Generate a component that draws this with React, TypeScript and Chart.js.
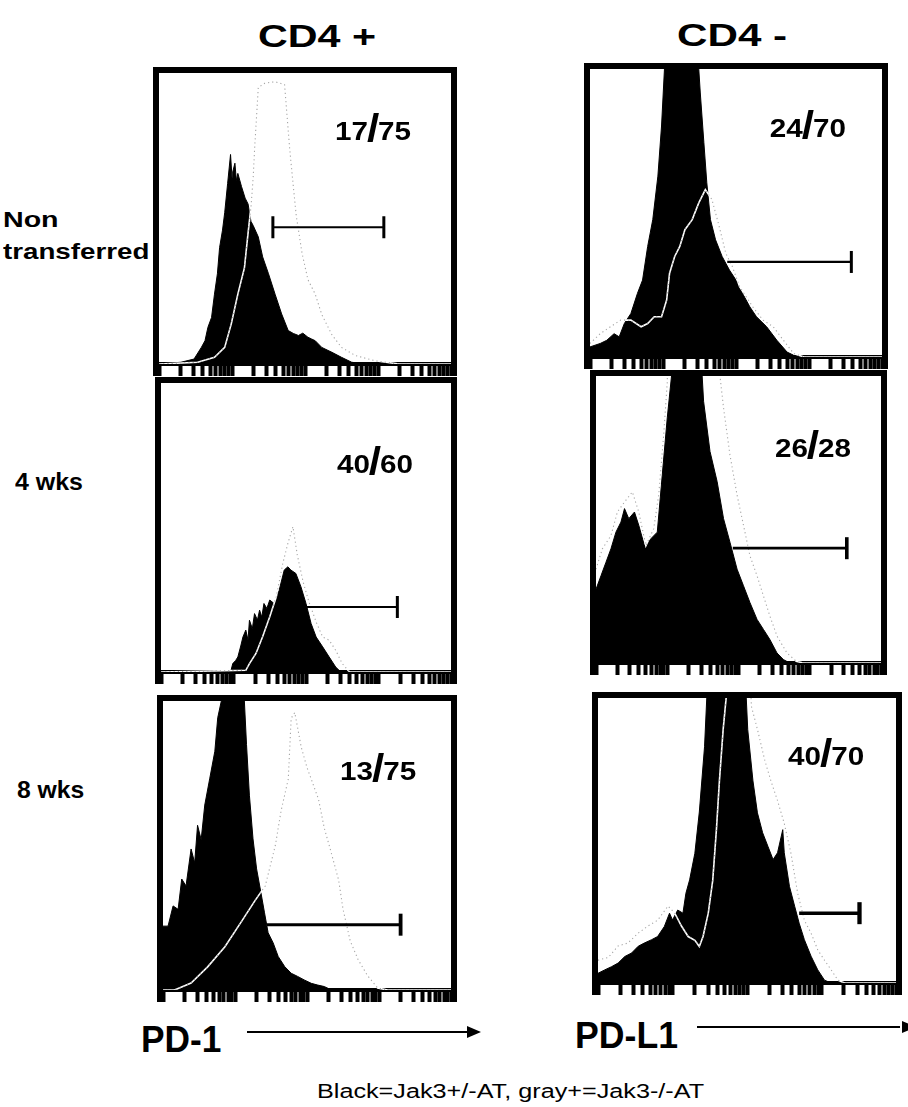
import { useEffect, useRef } from "react";
import { Chart, registerables } from "chart.js";

Chart.register(...registerables);

const FONT = '"Liberation Sans", Arial, Helvetica, sans-serif';

// x: log10 fluorescence (4 decades), y: events as % of the modal channel
const X_MIN = 0;
const X_MAX = 4;
const Y_MAX = 100;

// CD4+ , non transferred
const cd4PosNonBlackX = [0, 0.3, 0.48, 0.58, 0.63, 0.67, 0.72, 0.76, 0.8, 0.83, 0.87, 0.9, 0.94, 0.98, 1.0, 1.01, 1.04, 1.06, 1.08, 1.13, 1.18, 1.22, 1.26, 1.29, 1.36, 1.42, 1.5, 1.59, 1.68, 1.77, 1.84, 1.91, 1.97, 2.04, 2.09, 2.14, 2.23, 2.37, 2.5, 2.64, 2.83, 4];
const cd4PosNonBlackY = [0, 0.6, 1.7, 5.7, 8, 12.6, 16, 24, 31, 40, 46, 52, 62, 72, 64, 66, 69, 63, 65.5, 61, 57, 55, 49, 47.6, 43.7, 36.8, 31, 24, 17.2, 11.5, 10.5, 9.8, 10.6, 9.2, 8.6, 8, 5.7, 4, 2.3, 0.6, 0, 0];
const cd4PosNonGrayX = [0, 0.53, 0.76, 0.9, 0.99, 1.08, 1.17, 1.22, 1.26, 1.29, 1.31, 1.36, 1.45, 1.59, 1.72, 1.79, 1.84, 1.88, 1.96, 2.04, 2.14, 2.23, 2.37, 2.5, 2.69, 2.96, 3.29, 4];
const cd4PosNonGrayY = [0, 0.6, 2.3, 5.7, 13.8, 24, 33, 45, 54, 64, 74, 95, 96.5, 97, 96, 74, 61, 51, 38, 29, 24, 17, 10, 5.7, 2.9, 1.1, 0, 0];

// CD4- , non transferred
const cd4NegNonBlackX = [0, 0.14, 0.23, 0.33, 0.4, 0.47, 0.56, 0.65, 0.72, 0.79, 0.86, 0.93, 0.98, 1.02, 1.07, 1.44, 1.49, 1.51, 1.56, 1.6, 1.65, 1.72, 1.81, 1.91, 2.0, 2.09, 2.19, 2.28, 2.42, 2.56, 2.7, 2.84, 4];
const cd4NegNonBlackY = [3.5, 4.7, 5.8, 8.1, 7, 11.6, 15.1, 22.1, 26.7, 38.4, 47.7, 62.8, 80.2, 100, 130, 130, 100, 92, 74.4, 60.5, 47.7, 40.7, 34.9, 30.2, 26.7, 22.1, 17.4, 14, 10.5, 5.8, 1.7, 0, 0];
const cd4NegNonGrayX = [0, 0.14, 0.28, 0.42, 0.56, 0.7, 0.79, 0.88, 0.98, 1.05, 1.09, 1.16, 1.23, 1.3, 1.4, 1.49, 1.58, 1.67, 1.77, 1.86, 1.95, 2.05, 2.14, 2.23, 2.37, 2.51, 2.65, 2.79, 2.93, 4];
const cd4NegNonGrayY = [4.7, 8.1, 10.5, 12.8, 12.8, 10.5, 11.6, 14, 14, 19.8, 29.1, 34.9, 38.4, 44.2, 47.7, 53.5, 58.1, 54.7, 45.3, 36, 31.4, 24.4, 20.9, 17.4, 12.8, 10.5, 5.8, 1.2, 0, 0];

// CD4+ , 4 wks
const cd4Pos4wBlackX = [0, 0.96, 0.99, 1.03, 1.06, 1.1, 1.13, 1.17, 1.2, 1.22, 1.26, 1.29, 1.33, 1.36, 1.39, 1.42, 1.46, 1.5, 1.56, 1.63, 1.7, 1.75, 1.79, 1.86, 1.93, 2.0, 2.07, 2.14, 2.23, 2.32, 2.41, 2.48, 4];
const cd4Pos4wBlackY = [0, 0, 2.9, 4, 5.2, 9, 12.1, 14.5, 11, 17.9, 15, 20.2, 18, 21.4, 19, 23.7, 22, 24.9, 23.7, 28.3, 35.3, 36.4, 35.3, 34.1, 29.5, 23.7, 16.8, 12.1, 8.7, 5.2, 1.7, 0, 0];
const cd4Pos4wGrayX = [0, 1.17, 1.22, 1.31, 1.4, 1.5, 1.59, 1.68, 1.75, 1.82, 1.88, 1.96, 2.04, 2.14, 2.23, 2.32, 2.41, 2.5, 2.6, 4];
const cd4Pos4wGrayY = [0, 0.6, 2.9, 6.4, 12.1, 19.1, 26, 37.6, 44.5, 50.3, 40.5, 31.2, 24.3, 17.3, 12.1, 11, 7.5, 2.9, 0, 0];

// CD4- , 4 wks
const cd4Neg4wBlackX = [0, 0.07, 0.14, 0.21, 0.28, 0.35, 0.4, 0.46, 0.54, 0.6, 0.68, 0.77, 0.86, 0.93, 1.0, 1.06, 1.09, 1.44, 1.49, 1.51, 1.6, 1.7, 1.79, 1.88, 1.98, 2.07, 2.16, 2.26, 2.35, 2.44, 2.54, 2.63, 2.72, 4];
const cd4Neg4wBlackY = [25.7, 30.4, 35.1, 39.8, 45.6, 49.1, 53.8, 50.3, 52.6, 48, 40.9, 43.3, 45.6, 65.5, 85.4, 100, 130, 130, 100, 91.2, 73.7, 63.2, 50.3, 42.1, 32.7, 26.9, 21.1, 15.2, 11.7, 8.2, 3.5, 1.2, 0, 0];
const cd4Neg4wGrayX = [0, 0.09, 0.21, 0.3, 0.4, 0.51, 0.6, 0.7, 0.81, 0.88, 0.95, 1.0, 1.02, 1.7, 1.74, 1.79, 1.88, 1.98, 2.07, 2.16, 2.26, 2.35, 2.44, 2.54, 2.68, 2.81, 2.91, 4];
const cd4Neg4wGrayY = [32.7, 39.8, 44.4, 52.6, 56.1, 59.6, 52.6, 40.9, 46.8, 58.5, 79.5, 97.7, 130, 130, 100, 88.9, 72.5, 58.5, 48, 37.4, 30.4, 23.4, 16.4, 9.4, 3.5, 0.6, 0, 0];

// CD4+ , 8 wks
const cd4Pos8wBlackX = [0, 0.07, 0.14, 0.21, 0.26, 0.32, 0.39, 0.44, 0.48, 0.53, 0.58, 0.65, 0.72, 0.76, 0.81, 0.83, 1.11, 1.13, 1.16, 1.2, 1.25, 1.3, 1.36, 1.41, 1.46, 1.53, 1.6, 1.69, 1.78, 1.87, 1.96, 2.06, 2.15, 2.24, 2.34, 4];
const cd4Pos8wBlackY = [22.1, 22.1, 29.1, 27.9, 38.4, 36, 48.8, 44, 57, 52, 64, 73.3, 82.6, 94.2, 100, 130, 130, 100, 84.9, 67.4, 52.3, 41.9, 33.7, 26.7, 19.8, 16.3, 11.6, 8.1, 5.8, 4.7, 3.5, 2.3, 1.7, 1.2, 0, 0];
const cd4Pos8wGrayX = [0, 0.16, 0.39, 0.62, 0.86, 1.08, 1.28, 1.42, 1.56, 1.64, 1.74, 1.78, 1.83, 1.92, 2.0, 2.16, 2.24, 2.32, 2.44, 2.5, 2.6, 2.71, 2.84, 2.98, 3.12, 4];
const cd4Pos8wGrayY = [0, 0, 2.4, 8, 15, 23.3, 31, 36, 50, 62, 73, 94, 96, 84, 77, 66, 56, 49, 38, 28, 17, 10.5, 5, 0.7, 0, 0];

// CD4- , 8 wks
const cd4Neg8wBlackX = [0, 0.09, 0.18, 0.27, 0.36, 0.45, 0.54, 0.62, 0.72, 0.8, 0.89, 0.96, 1.0, 1.07, 1.14, 1.18, 1.23, 1.3, 1.36, 1.43, 1.46, 1.48, 1.97, 1.99, 2.01, 2.08, 2.14, 2.21, 2.28, 2.35, 2.41, 2.48, 2.5, 2.57, 2.64, 2.7, 2.77, 2.86, 2.95, 3.04, 3.13, 4];
const cd4Neg8wBlackY = [3.4, 4.6, 5.7, 7, 9.3, 10.5, 12.9, 14, 15.2, 16.3, 19.8, 24.5, 22.1, 25.6, 24.5, 31.5, 36.2, 45.5, 60, 82.9, 100, 130, 130, 100, 88.9, 70.9, 59.7, 52.7, 48, 43.3, 45.7, 53.8, 45.7, 33.9, 26.9, 21, 15.2, 9.4, 4.6, 1, 0, 0];
const cd4Neg8wGrayX = [0, 0.14, 0.27, 0.4, 0.54, 0.67, 0.8, 0.94, 1.03, 1.12, 1.21, 1.3, 1.36, 1.41, 1.48, 1.54, 1.59, 1.63, 1.68, 1.72, 1.74, 1.99, 2.06, 2.14, 2.24, 2.32, 2.41, 2.5, 2.59, 2.68, 2.77, 2.86, 2.95, 3.04, 3.13, 3.22, 3.31, 4];
const cd4Neg8wGrayY = [8, 9, 13, 14, 17.5, 20, 22, 27, 24.5, 20, 16.3, 15, 12.8, 16.3, 24.5, 36, 54, 71, 89, 100, 130, 130, 97, 89, 78, 71, 64, 56, 45.5, 31.5, 22, 17.5, 11.6, 8, 4.6, 1, 0, 0];

// Marker gates: [start, end] on the log axis and the height they are drawn at
const gateStarts = [1.56, 1.88, 2.0, 1.92, 1.44, 2.7];
const gateEnds = [3.08, 3.58, 3.26, 3.52, 3.3, 3.51];
const gateLevels = [47, 33, 22.5, 40, 22.6, 24.5];

// % positive inside the gate: Jak3+/- (black) / Jak3-/- (gray)
const blackPercents = ["17", "24", "40", "26", "13", "40"];
const grayPercents = ["75", "70", "60", "28", "75", "70"];

// Log tick positions (1..9 per decade)
const tickValues: number[] = [];
for (let d = 0; d < 4; d++) {
  for (let k = 1; k <= 9; k++) tickValues.push(d + Math.log10(k));
}
tickValues.push(4);

type PanelDef = {
  left: number;
  top: number;
  width: number;
  height: number;
  blackX: number[];
  blackY: number[];
  grayX: number[];
  grayY: number[];
  idx: number;
  leftCap: boolean;
  gateWidth: number;
  labelFx: number;
  labelFy: number;
};

const TICK_LEN = 12;

const panels: PanelDef[] = [
  { left: 153, top: 67, width: 304, height: 309, blackX: cd4PosNonBlackX, blackY: cd4PosNonBlackY, grayX: cd4PosNonGrayX, grayY: cd4PosNonGrayY, idx: 0, leftCap: true, gateWidth: 2.2, labelFx: 0.603, labelFy: 0.23 },
  { left: 584, top: 63, width: 304, height: 306, blackX: cd4NegNonBlackX, blackY: cd4NegNonBlackY, grayX: cd4NegNonGrayX, grayY: cd4NegNonGrayY, idx: 1, leftCap: false, gateWidth: 2.2, labelFx: 0.616, labelFy: 0.236 },
  { left: 155, top: 377, width: 302, height: 307, blackX: cd4Pos4wBlackX, blackY: cd4Pos4wBlackY, grayX: cd4Pos4wGrayX, grayY: cd4Pos4wGrayY, idx: 2, leftCap: false, gateWidth: 2.2, labelFx: 0.607, labelFy: 0.311 },
  { left: 590, top: 370, width: 297, height: 305, blackX: cd4Neg4wBlackX, blackY: cd4Neg4wBlackY, grayX: cd4Neg4wGrayX, grayY: cd4Neg4wGrayY, idx: 3, leftCap: false, gateWidth: 2.8, labelFx: 0.628, labelFy: 0.282 },
  { left: 157, top: 695, width: 300, height: 307, blackX: cd4Pos8wBlackX, blackY: cd4Pos8wBlackY, grayX: cd4Pos8wGrayX, grayY: cd4Pos8wGrayY, idx: 4, leftCap: false, gateWidth: 3, labelFx: 0.615, labelFy: 0.273 },
  { left: 592, top: 692, width: 310, height: 303, blackX: cd4Neg8wBlackX, blackY: cd4Neg8wBlackY, grayX: cd4Neg8wGrayX, grayY: cd4Neg8wGrayY, idx: 5, leftCap: false, gateWidth: 3.5, labelFx: 0.638, labelFy: 0.235 },
];

const toPoints = (xs: number[], ys: number[]) => {
  const n = Math.min(xs.length, ys.length);
  const pts: { x: number; y: number }[] = [];
  for (let i = 0; i < n; i++) pts.push({ x: xs[i], y: ys[i] });
  return pts;
};

// Thick frame around the plot (left, top, right sides)
const framePlugin = {
  id: "frame",
  afterDraw(chart: any) {
    const { ctx, width, height } = chart;
    ctx.save();
    ctx.strokeStyle = "#000";
    ctx.lineWidth = 6;
    ctx.lineJoin = "miter";
    ctx.beginPath();
    ctx.moveTo(3, height);
    ctx.lineTo(3, 3);
    ctx.lineTo(width - 3, 3);
    ctx.lineTo(width - 3, height);
    ctx.stroke();
    ctx.restore();
  },
};

// Marker gate and the percentage label
const gatePlugin = {
  id: "gate",
  afterDatasetsDraw(chart: any, _args: any, opts: any) {
    const p: PanelDef = opts.panel;
    const { ctx, chartArea, scales } = chart;
    const xs = scales.x;
    const ys = scales.y;
    const i = p.idx;
    const x0 = xs.getPixelForValue(gateStarts[i]);
    const x1 = xs.getPixelForValue(gateEnds[i]);
    const y = ys.getPixelForValue(gateLevels[i]);
    ctx.save();
    ctx.strokeStyle = "#000";
    ctx.lineWidth = p.gateWidth;
    ctx.beginPath();
    ctx.moveTo(x0, y);
    ctx.lineTo(x1, y);
    ctx.stroke();
    ctx.lineWidth = p.gateWidth + 0.8;
    ctx.beginPath();
    ctx.moveTo(x1, y - 11);
    ctx.lineTo(x1, y + 11);
    if (p.leftCap) {
      ctx.moveTo(x0, y - 11);
      ctx.lineTo(x0, y + 11);
    }
    ctx.stroke();

    // "a/b" label with an oversized slash
    const lx = chartArea.left + p.labelFx * (chartArea.right - chartArea.left);
    const ly = chartArea.top + p.labelFy * (chartArea.bottom - chartArea.top);
    const a = blackPercents[i];
    const b = grayPercents[i];
    ctx.translate(lx, ly);
    ctx.scale(1.14, 1);
    ctx.fillStyle = "#000";
    ctx.textBaseline = "alphabetic";
    ctx.font = `bold 26px ${FONT}`;
    ctx.fillText(a, 0, 0);
    const wa = ctx.measureText(a).width;
    ctx.font = `bold 39px ${FONT}`;
    ctx.fillText("/", wa - 1, 1);
    const ws = ctx.measureText("/").width;
    ctx.font = `bold 26px ${FONT}`;
    ctx.fillText(b, wa + ws - 2, 0);
    ctx.restore();
  },
};

function Histogram({ panel }: { panel: PanelDef }) {
  const ref = useRef<HTMLCanvasElement | null>(null);
  useEffect(() => {
    if (!ref.current) return;
    const chart = new Chart(ref.current, {
      type: "line",
      data: {
        datasets: [
          {
            data: toPoints(panel.blackX, panel.blackY),
            borderColor: "#000",
            backgroundColor: "#000",
            borderWidth: 1,
            fill: "origin",
            pointRadius: 0,
            tension: 0,
            order: 3,
          },
          {
            data: toPoints(panel.grayX, panel.grayY),
            borderColor: "#ffffff",
            borderWidth: 1.6,
            fill: false,
            pointRadius: 0,
            tension: 0,
            order: 2,
          },
          {
            data: toPoints(panel.grayX, panel.grayY),
            borderColor: "#a6a6a6",
            borderWidth: 1.1,
            borderDash: [1.2, 3],
            fill: false,
            pointRadius: 0,
            tension: 0,
            order: 1,
          },
        ],
      },
      options: {
        animation: false,
        responsive: false,
        maintainAspectRatio: false,
        events: [],
        layout: { padding: { left: 6, right: 6, top: 6, bottom: 0 } },
        plugins: {
          legend: { display: false },
          tooltip: { enabled: false },
          gate: { panel },
        } as any,
        scales: {
          x: {
            type: "linear",
            min: X_MIN,
            max: X_MAX,
            z: 1,
            afterBuildTicks: (scale: any) => {
              scale.ticks = tickValues.map((v) => ({ value: v }));
            },
            ticks: { display: false },
            grid: {
              display: true,
              drawOnChartArea: false,
              drawTicks: true,
              tickLength: TICK_LEN,
              tickWidth: 4,
              tickColor: "#000",
              color: "#000",
            },
            border: { display: true, color: "#000", width: 4 },
          },
          y: { display: false, min: 0, max: Y_MAX },
        },
      } as any,
      plugins: [framePlugin, gatePlugin],
    });
    return () => chart.destroy();
  }, [panel]);
  return (
    <canvas
      ref={ref}
      width={panel.width}
      height={panel.height}
      style={{ position: "absolute", left: panel.left, top: panel.top, width: panel.width, height: panel.height }}
    />
  );
}

function Text({ text, left, baseline, size, bold = true, sx = 1 }: { text: string; left: number; baseline: number; size: number; bold?: boolean; sx?: number }) {
  return (
    <div
      style={{
        position: "absolute",
        left,
        top: baseline - 0.8465 * size,
        fontFamily: FONT,
        fontSize: size,
        fontWeight: bold ? 700 : 400,
        lineHeight: 1,
        whiteSpace: "pre",
        color: "#000",
        transform: `scaleX(${sx})`,
        transformOrigin: "left top",
      }}
    >
      {text}
    </div>
  );
}

function Arrow({ x0, x1, y, clip }: { x0: number; x1: number; y: number; clip?: boolean }) {
  const w = x1 - x0;
  return (
    <svg style={{ position: "absolute", left: x0, top: y - 8, overflow: "hidden" }} width={w} height={16}>
      <line x1={0} y1={8} x2={w - 8} y2={8} stroke="#000" strokeWidth={2} />
      <polygon points={`${w - (clip ? 6 : 14)},2 ${w - (clip ? -8 : 0)},8 ${w - (clip ? 6 : 14)},14`} fill="#000" />
    </svg>
  );
}

export default function App() {
  return (
    <div style={{ position: "absolute", left: 0, top: 0, width: 908, height: 1107, background: "#fff", overflow: "hidden" }}>
      <Text text="CD4 +" left={258} baseline={47} size={31} sx={1.33} />
      <Text text="CD4 -" left={677} baseline={46} size={31} sx={1.36} />
      <Text text="Non" left={3} baseline={228} size={22} sx={1.3} />
      <Text text="transferred" left={3} baseline={260} size={22} sx={1.26} />
      <Text text="4 wks" left={15} baseline={490} size={24} sx={1.04} />
      <Text text="8 wks" left={17} baseline={798} size={24} sx={1.03} />
      {panels.map((p) => (
        <Histogram key={p.idx} panel={p} />
      ))}
      <Text text="PD-1" left={141} baseline={1052} size={36} sx={0.98} />
      <Arrow x0={247} x1={481} y={1032} />
      <Text text="PD-L1" left={575} baseline={1048} size={36} sx={0.99} />
      <Arrow x0={697} x1={908} y={1027} clip />
      <Text text="Black=Jak3+/-AT, gray+=Jak3-/-AT" left={317} baseline={1098} size={20} bold={false} sx={1.26} />
    </div>
  );
}
